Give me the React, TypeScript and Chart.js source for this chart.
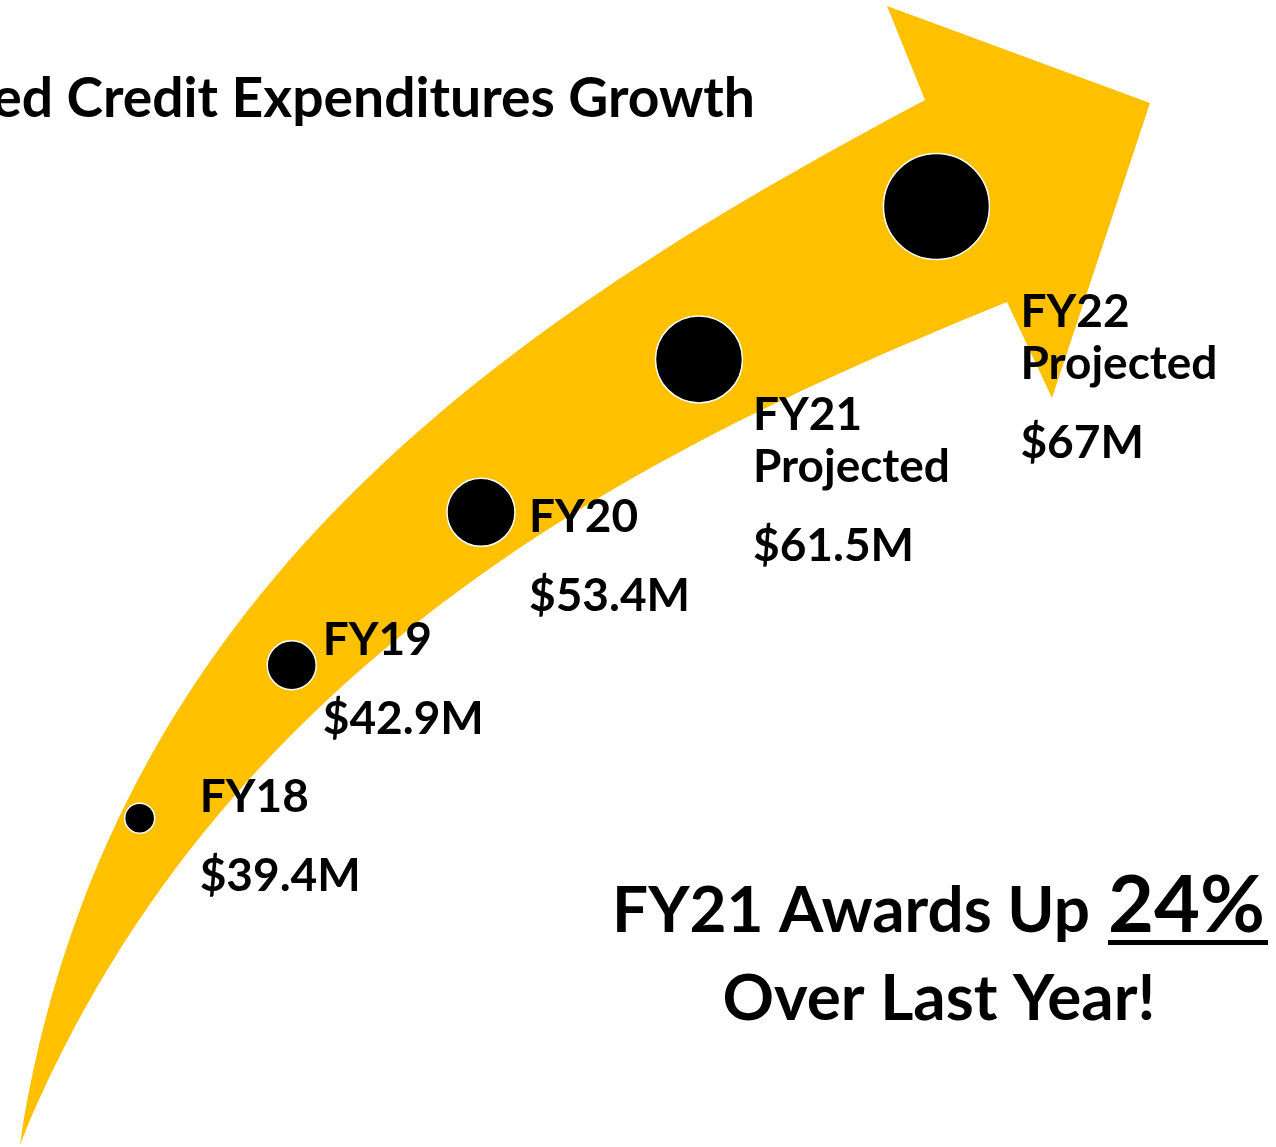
import React, { useEffect, useRef } from 'react';
import { Chart, registerables } from 'chart.js';

Chart.register(...registerables);

// ---------- data ----------
const categories = ['FY18', 'FY19', 'FY20', 'FY21', 'FY22'];
const expenditures = [39.4, 42.9, 53.4, 61.5, 67]; // $M
const valueLabels = ['$39.4M', '$42.9M', '$53.4M', '$61.5M', '$67M'];
const statusLabels = ['', '', '', 'Projected', 'Projected'];
const titleText = 'ed Credit Expenditures Growth';
const calloutLine1 = 'FY21 Awards Up';
const calloutPercent = '24%';
const calloutLine2 = 'Over Last Year!';

// ---------- styling / layout (reference frame 1276 x 1147) ----------
const REF_W = 1276;
const REF_H = 1147;
const GOLD = '#FFC000';
const FONT = 'Lato, "Open Sans", "DejaVu Sans", sans-serif';

// decorative arrow outline: two cubic edges + the head
const ARROW_UPPER: number[][] = [[20, 1145], [105, 592], [505, 323], [925, 100]];
const ARROW_HEAD: number[][] = [[887, 6], [1150, 103], [1052, 398], [1007, 302]];
const ARROW_LOWER: number[][] = [[1007, 302], [707, 425], [230, 628], [20, 1145]];
// label anchor offsets relative to each bubble centre (first baseline)
const LABEL_OFFSETS: number[][] = [[60, -6], [31, -10], [48, 20], [54, 71], [84, 121]];

function fitSize(ctx: CanvasRenderingContext2D, text: string, target: number) {
  ctx.font = `bold 100px ${FONT}`;
  const w = ctx.measureText(text).width || 1;
  return (100 * target) / w;
}

const arrowPlugin = {
  id: 'growthArrow',
  beforeDatasetsDraw(chart: any) {
    const ctx: CanvasRenderingContext2D = chart.ctx;
    const sx = chart.width / REF_W;
    const sy = chart.height / REF_H;
    const s = (p: number[]) => [p[0] * sx, p[1] * sy];
    const u = ARROW_UPPER.map(s);
    const l = ARROW_LOWER.map(s);
    ctx.save();
    ctx.beginPath();
    ctx.moveTo(u[0][0], u[0][1]);
    ctx.bezierCurveTo(u[1][0], u[1][1], u[2][0], u[2][1], u[3][0], u[3][1]);
    ARROW_HEAD.map(s).forEach(([x, y]) => ctx.lineTo(x, y));
    ctx.lineTo(l[0][0], l[0][1]);
    ctx.bezierCurveTo(l[1][0], l[1][1], l[2][0], l[2][1], l[3][0], l[3][1]);
    ctx.closePath();
    ctx.fillStyle = GOLD;
    ctx.fill();
    ctx.restore();
  },
};

const textPlugin = {
  id: 'growthText',
  afterDatasetsDraw(chart: any) {
    const ctx: CanvasRenderingContext2D = chart.ctx;
    const sx = chart.width / REF_W;
    const sy = chart.height / REF_H;
    ctx.save();
    ctx.fillStyle = '#000';
    ctx.textBaseline = 'alphabetic';

    // title (partly cut at the left edge, as in the source slide)
    const titleSize = fitSize(ctx, titleText, 763 * sx);
    ctx.font = `bold ${titleSize}px ${FONT}`;
    ctx.textAlign = 'right';
    ctx.fillText(titleText, 755 * sx, 117 * sy);

    // point labels
    const labelSize = fitSize(ctx, 'Projected', 197 * sx);
    ctx.font = `bold ${labelSize}px ${FONT}`;
    ctx.textAlign = 'left';
    const meta = chart.getDatasetMeta(0);
    meta.data.forEach((pt: any, i: number) => {
      const [dx, dy] = LABEL_OFFSETS[i];
      const x = pt.x + dx * sx;
      let y = pt.y + dy * sy;
      ctx.fillText(categories[i], x, y);
      if (statusLabels[i]) {
        y += 52 * sy;
        ctx.fillText(statusLabels[i], x, y);
      }
      y += 79 * sy;
      ctx.fillText(valueLabels[i], x, y);
    });

    // callout
    const bigSize = fitSize(ctx, calloutLine1, 478 * sx);
    ctx.font = `bold ${bigSize}px ${FONT}`;
    ctx.textAlign = 'left';
    ctx.fillText(calloutLine1, 612 * sx, 932 * sy);
    const pctSize = fitSize(ctx, calloutPercent, 157 * sx);
    ctx.font = `bold ${pctSize}px ${FONT}`;
    ctx.fillText(calloutPercent, 1108 * sx, 932 * sy);
    ctx.fillRect(1108 * sx, 940 * sy, 160 * sx, 5 * sy);
    ctx.font = `bold ${bigSize}px ${FONT}`;
    ctx.textAlign = 'center';
    ctx.fillText(calloutLine2, 939 * sx, 1020 * sy);
    ctx.restore();
  },
};

export default function App() {
  const canvasRef = useRef<HTMLCanvasElement | null>(null);

  useEffect(() => {
    if (!canvasRef.current) return;
    // bubbles sit along the arrow: horizontal position = running total of spend, vertical = year step
    let running = 0;
    const points = expenditures.map((v, i) => {
      running += v;
      return { x: running, y: i };
    });
    const radius = (c: any) => 15 + 9.5 * c.dataIndex;
    const chart = new Chart(canvasRef.current, {
      type: 'scatter',
      data: {
        labels: categories,
        datasets: [
          {
            label: 'Credit expenditures ($M)',
            data: points,
            pointRadius: radius,
            pointHoverRadius: radius,
            pointBackgroundColor: '#000000',
            pointBorderColor: '#FFFFFF',
            pointBorderWidth: 1.5,
            showLine: false,
            clip: false,
          },
        ],
      },
      options: {
        responsive: false,
        animation: false,
        events: [],
        layout: { padding: 0, autoPadding: false },
        plugins: { legend: { display: false }, tooltip: { enabled: false } },
        scales: {
          x: { type: 'linear', min: 0, max: 360, display: false },
          y: { type: 'linear', min: -2.15, max: 5.35, display: false },
        },
      } as any,
      plugins: [arrowPlugin, textPlugin],
    });
    return () => chart.destroy();
  }, []);

  return (
    <div style={{ position: 'fixed', left: 0, top: 0, width: REF_W, height: REF_H, background: '#fff' }}>
      <canvas ref={canvasRef} width={REF_W} height={REF_H} style={{ display: 'block' }} />
    </div>
  );
}
